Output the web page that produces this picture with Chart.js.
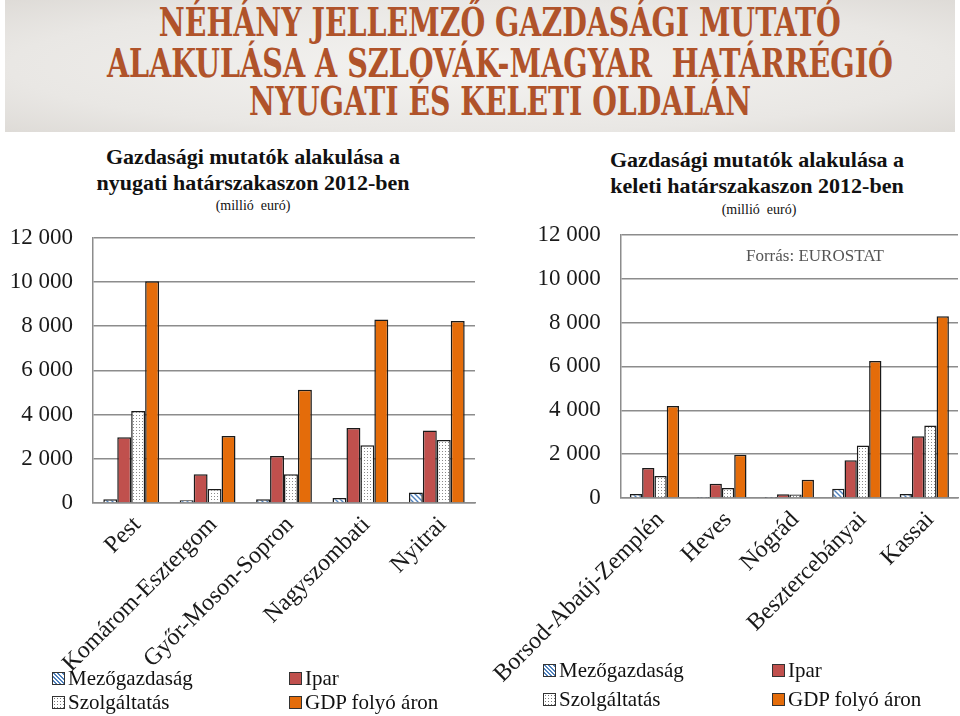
<!DOCTYPE html>
<html>
<head>
<meta charset="utf-8">
<script src="https://cdn.jsdelivr.net/npm/chart.js@4.4.0/dist/chart.umd.min.js"></script>
<style>
  body { margin: 0; width: 960px; height: 716px; background: #fff; position: relative; overflow: hidden;
         font-family: "Liberation Serif", "Times New Roman", serif; color: #111; }
  .banner { position: absolute; left: 5px; top: 0; width: 950px; height: 132px;
            background: radial-gradient(ellipse at center, #f4f3f1 0%, #e9e7e4 70%, #dedbd7 100%); }
  .bigtitle { position: absolute; left: -280px; width: 1560px; text-align: center; font-weight: bold;
              font-family: "DejaVu Serif Condensed", "DejaVu Serif", serif; font-stretch: condensed;
              font-size: 40px; color: #b0532a; white-space: nowrap; line-height: 44px; }
  .bigtitle span { display: inline-block; transform-origin: center center; }
  .ctitle { position: absolute; text-align: center; font-weight: bold; font-size: 22px; line-height: 26px; white-space: nowrap; }
  .csub { position: absolute; text-align: center; font-size: 14px; white-space: nowrap; }
  .source { position: absolute; left: 746px; top: 246px; font-size: 17px; color: #555; }
  canvas { position: absolute; }
  .leg { position: absolute; font-size: 21px; white-space: nowrap; line-height: 22px; }
  .sw { display: inline-block; width: 11px; height: 11px; border: 1px solid #333; margin-right: 3px; vertical-align: 0px; }
  .sw.mezo { background: repeating-linear-gradient(45deg, #fff 0 1.5px, #4f81bd 1.5px 3px); }
  .sw.szolg { background: #fff radial-gradient(circle, #777 0.8px, transparent 1px) 0 0 / 3px 3px; }
  .sw.ipar { background: #c0504d; }
  .sw.gdp { background: #e46c0a; }
</style>
</head>
<body>
<div class="banner"></div>
<div class="bigtitle" style="top:0px"><span data-w="682">NÉHÁNY JELLEMZŐ GAZDASÁGI MUTATÓ</span></div>
<div class="bigtitle" style="top:41px"><span data-w="786">ALAKULÁSA A SZLOVÁK-MAGYAR&nbsp; HATÁRRÉGIÓ</span></div>
<div class="bigtitle" style="top:79px"><span data-w="502">NYUGATI ÉS KELETI OLDALÁN</span></div>

<div class="ctitle" style="left:53px; width:400px; top:144px">Gazdasági mutatók alakulása a<br>nyugati határszakaszon 2012-ben</div>
<div class="csub" style="left:153px; width:200px; top:198px">(millió&nbsp; euró)</div>
<div class="ctitle" style="left:557px; width:400px; top:147px">Gazdasági mutatók alakulása a<br>keleti határszakaszon 2012-ben</div>
<div class="csub" style="left:659px; width:200px; top:202px">(millió&nbsp; euró)</div>

<canvas id="west" width="480" height="511" style="left:0; top:204px"></canvas>
<canvas id="east" width="480" height="511" style="left:480px; top:201px"></canvas>
<div class="source">Forrás: EUROSTAT</div>

<div class="leg" style="left:52px; top:667px"><span class="sw mezo"></span>Mezőgazdaság</div>
<div class="leg" style="left:289px; top:667px"><span class="sw ipar"></span>Ipar</div>
<div class="leg" style="left:52px; top:691px"><span class="sw szolg"></span>Szolgáltatás</div>
<div class="leg" style="left:289px; top:691px"><span class="sw gdp"></span>GDP folyó áron</div>

<div class="leg" style="left:543px; top:659px"><span class="sw mezo"></span>Mezőgazdaság</div>
<div class="leg" style="left:772px; top:659px"><span class="sw ipar"></span>Ipar</div>
<div class="leg" style="left:543px; top:688px"><span class="sw szolg"></span>Szolgáltatás</div>
<div class="leg" style="left:772px; top:688px"><span class="sw gdp"></span>GDP folyó áron</div>

<script>
// Data (millió euró, 2012)
const westCategories = ['Pest', 'Komárom-Esztergom', 'Győr-Moson-Sopron', 'Nagyszombati', 'Nyitrai'];
const westMezo  = [165, 120, 165, 225, 470];
const westIpar  = [2975, 1300, 2130, 3395, 3275];
const westSzolg = [4165, 635, 1300, 2610, 2850];
const westGdp   = [10030, 3030, 5130, 8300, 8235];

const eastCategories = ['Borsod-Abaúj-Zemplén', 'Heves', 'Nógrád', 'Besztercebányai', 'Kassai'];
const eastMezo  = [180, 15, 15, 425, 180];
const eastIpar  = [1365, 655, 170, 1725, 2820];
const eastSzolg = [1000, 455, 160, 2395, 3305];
const eastGdp   = [4200, 1975, 835, 6245, 8290];

const seriesNames = ['Mezőgazdaság', 'Ipar', 'Szolgáltatás', 'GDP folyó áron'];
const yMax = 12000;
const yStep = 2000;

// fit the banner lines to their widths
document.querySelectorAll('.bigtitle span').forEach(s => {
  const w = s.getBoundingClientRect().width;
  s.style.transform = 'scaleX(' + (parseFloat(s.dataset.w) / w) + ')';
});

// fill patterns
function hatchPattern() {
  const c = document.createElement('canvas');
  c.width = 5; c.height = 5;
  const g = c.getContext('2d');
  g.fillStyle = '#fff'; g.fillRect(0, 0, 5, 5);
  g.strokeStyle = '#4f81bd'; g.lineWidth = 1.4;
  g.beginPath();
  g.moveTo(-1, -1); g.lineTo(6, 6);
  g.moveTo(-1, 4); g.lineTo(1, 6);
  g.moveTo(4, -1); g.lineTo(6, 1);
  g.stroke();
  return g.createPattern(c, 'repeat');
}
function dotPattern() {
  const c = document.createElement('canvas');
  c.width = 3; c.height = 3;
  const g = c.getContext('2d');
  g.fillStyle = '#fff'; g.fillRect(0, 0, 3, 3);
  g.fillStyle = '#8a8a8a'; g.fillRect(1, 1, 1, 1);
  return g.createPattern(c, 'repeat');
}

const fills = [hatchPattern(), '#c0504d', dotPattern(), '#e46c0a'];
const tickFont = { family: 'Liberation Serif', size: 23 };
const labelFont = { family: 'Liberation Serif', size: 24 };

function fmt(v) {
  return String(v).replace(/\B(?=(\d{3})+(?!\d))/g, ' ');
}

function makeChart(id, labels, values, yWidth, xHeight, padRight) {
  new Chart(document.getElementById(id), {
    type: 'bar',
    data: {
      labels: labels,
      datasets: values.map((d, i) => ({
        label: seriesNames[i],
        data: d,
        backgroundColor: fills[i],
        borderColor: '#1a1a1a',
        borderWidth: 1.5,
        barPercentage: 1,
        categoryPercentage: 0.73
      }))
    },
    options: {
      responsive: false,
      animation: false,
      layout: { padding: { top: 12, right: padRight, left: 0, bottom: 0 } },
      plugins: { legend: { display: false }, tooltip: { enabled: false } },
      scales: {
        x: {
          grid: { display: false },
          border: { display: true, color: '#8c8c8c', width: 1.5 },
          ticks: { font: labelFont, color: '#1a1a1a', minRotation: 45, maxRotation: 45, autoSkip: false,
                   padding: 0, labelOffset: 6 },
          afterFit: axis => { axis.height = xHeight; }
        },
        y: {
          min: 0, max: yMax,
          grid: { color: '#8c8c8c', lineWidth: 1.5, drawTicks: false },
          border: { display: true, color: '#8c8c8c', width: 1.5 },
          ticks: { stepSize: yStep, font: tickFont, color: '#1a1a1a', padding: 20, callback: v => fmt(v) },
          afterFit: axis => { axis.width = yWidth; }
        }
      }
    }
  });
}

makeChart('west', westCategories, [westMezo, westIpar, westSzolg, westGdp], 93, 212, 5);
makeChart('east', eastCategories, [eastMezo, eastIpar, eastSzolg, eastGdp], 123, 214, 2);
</script>
</body>
</html>
